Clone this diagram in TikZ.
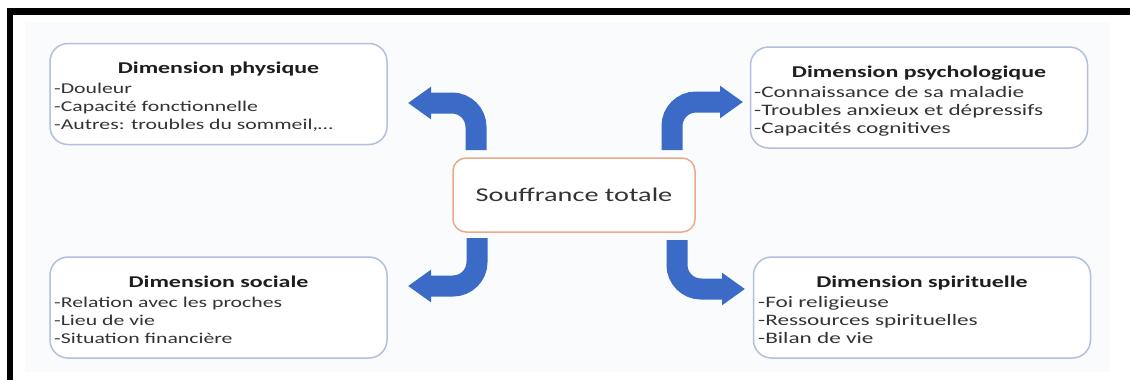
\documentclass[tikz,border=0pt]{standalone}
\usepackage{fontspec}
\newfontfamily\carl[FakeStretch=1.45]{Carlito}
\usetikzlibrary{arrows.meta}
\definecolor{arrowblue}{HTML}{3B6BC6}
\definecolor{boxedge}{HTML}{B3BFDD}
\definecolor{centeredge}{HTML}{EBA986}
\definecolor{txt}{HTML}{333333}
\definecolor{ttl}{HTML}{1E1E1E}
\definecolor{bgpanel}{HTML}{FAFBFC}
\begin{document}
\begin{tikzpicture}[x=1pt,y=-1pt,
  dimbox/.style={draw=boxedge, line width=1.5pt, rounded corners=18pt, fill=white, inner sep=0pt, outer sep=0pt, minimum width=337pt, minimum height=101pt},
  centerbox/.style={draw=centeredge, line width=1.5pt, rounded corners=13pt, fill=white, inner sep=0pt, outer sep=0pt, minimum width=242pt, minimum height=74pt, font=\carl\fontsize{19.5}{22}\selectfont, text=txt},
  ttlstyle/.style={inner sep=0pt, anchor=base, font=\carl\bfseries\fontsize{16.5}{18}\selectfont, text=ttl},
  itemstyle/.style={inner sep=0pt, anchor=base west, font=\carl\fontsize{16}{18}\selectfont, text=txt},
  itemleft/.style={itemstyle, font=\carl\fontsize{15}{18}\selectfont},
  bigarrow/.style={draw=arrowblue, line width=21pt, rounded corners=24pt, -{Triangle[length=23pt,width=31pt]}}
]
\useasboundingbox (0,0) rectangle (1130,380);
\fill[white] (0,0) rectangle (1130,380);
\fill[bgpanel] (25,22) rectangle (1110,372);
% black frame
\fill[black] (7,8) rectangle (1130,15);
\fill[black] (7,8) rectangle (13,380);

% boxes
\node[dimbox] (phys) at (218.5,94) {};
\node[dimbox] (psy) at (919,97.5) {};
\node[dimbox] (soc) at (218.5,307.5) {};
\node[dimbox] (spi) at (922,307.5) {};
\node[centerbox] (center) at (574,195) {Souffrance totale};

% physique
\node[ttlstyle] (physT) at (218.5,73) {Dimension physique};
\node[itemleft] (phys1) at (54,93) {-Douleur};
\node[itemleft] (phys2) at (54,111) {-Capacité fonctionnelle};
\node[itemleft] (phys3) at (54,129) {-Autres: troubles du sommeil,…};

% psychologique
\node[ttlstyle] (psyT) at (919,77) {Dimension psychologique};
\node[itemstyle] (psy1) at (754,97) {-Connaissance de sa maladie};
\node[itemstyle] (psy2) at (754,115) {-Troubles anxieux et dépressifs};
\node[itemstyle] (psy3) at (754,133) {-Capacités cognitives};

% sociale
\node[ttlstyle] (socT) at (218.5,287) {Dimension sociale};
\node[itemleft] (soc1) at (54,307) {-Relation avec les proches};
\node[itemleft] (soc2) at (54,325) {-Lieu de vie};
\node[itemleft] (soc3) at (54,343) {-Situation financière};

% spirituelle
\node[ttlstyle] (spiT) at (922,287) {Dimension spirituelle};
\node[itemstyle] (spi1) at (758,307) {-Foi religieuse};
\node[itemstyle] (spi2) at (758,325) {-Ressources spirituelles};
\node[itemstyle] (spi3) at (758,343) {-Bilan de vie};

% arrows
\coordinate (ulS) at (476,150);
\coordinate (ulE) at (408,103);
\coordinate (urS) at (672,150);
\coordinate (urE) at (743,102);
\coordinate (llS) at (477,238);
\coordinate (llE) at (408,286);
\coordinate (lrS) at (677,240);
\coordinate (lrE) at (745,289);
\draw[bigarrow] (ulS) |- (ulE);
\draw[bigarrow] (urS) |- (urE);
\draw[bigarrow] (llS) |- (llE);
\draw[bigarrow] (lrS) |- (lrE);
\end{tikzpicture}
\end{document}
